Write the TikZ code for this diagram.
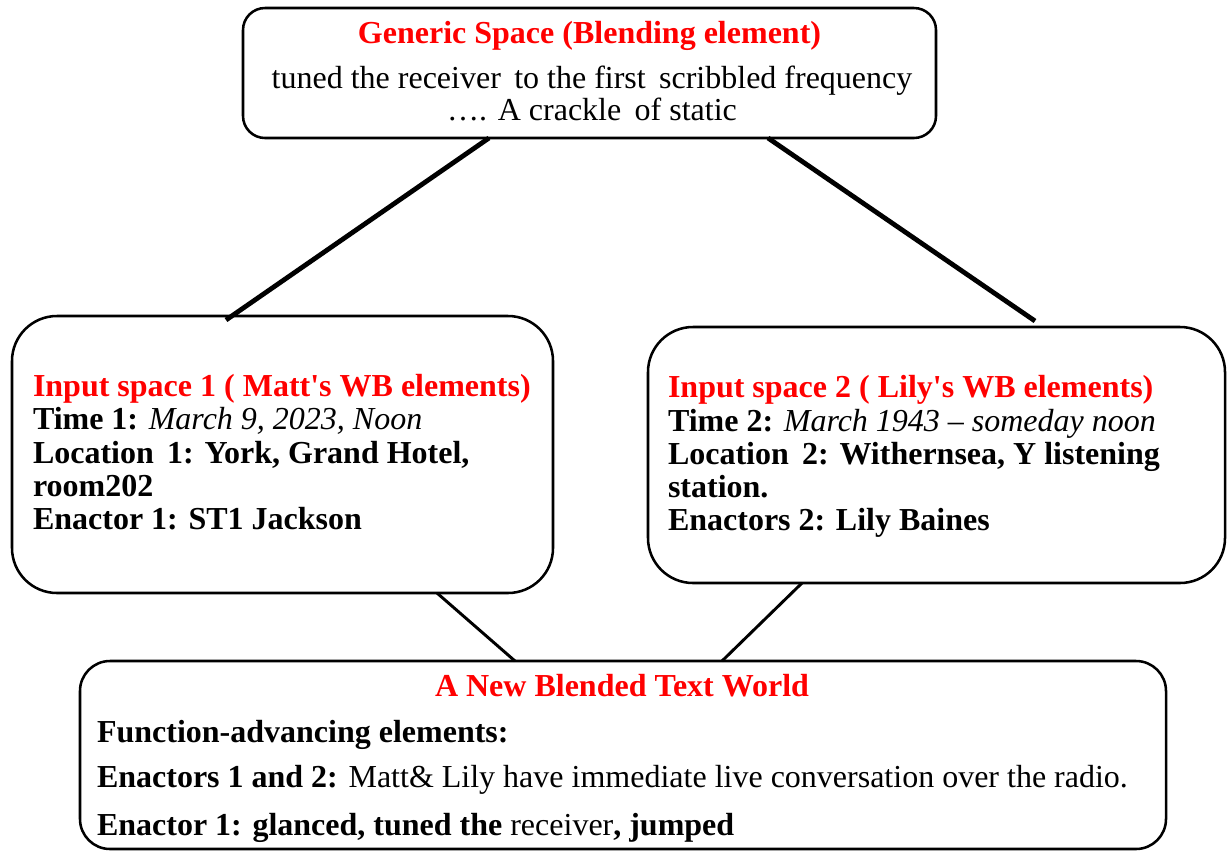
\documentclass[tikz,border=0pt]{standalone}
\usepackage{fontspec}
\setmainfont{Liberation Serif}
\usetikzlibrary{calc}
\definecolor{headred}{RGB}{255,0,0}
\newcommand{\sq}{\textquotesingle}
\begin{document}
\begin{tikzpicture}[x=0.75pt,y=-0.75pt,
  box/.style={draw=black, line width=1.9pt, rectangle, inner sep=0pt, outer sep=0pt},
  txt/.style={inner sep=0pt, outer sep=0pt, anchor=base west,
    font=\fontsize{24}{24.75}\selectfont},
  ctxt/.style={txt, anchor=base},
  head/.style={text=headred, font=\fontsize{24}{24.75}\selectfont\bfseries},
  thick link/.style={line width=3.6pt},
  thin link/.style={line width=2.2pt}]
\useasboundingbox (0,0) rectangle (1227,850);
\clip (0,0) rectangle (1227,850);
\fill[white] (0,0) rectangle (1227,850);

% the four spaces
\node[box, rounded corners=16.5pt, minimum width=519.75pt, minimum height=97.5pt]
  (gen) at (589.5,73) {};
\node[box, rounded corners=33.75pt, minimum width=405.75pt, minimum height=207.75pt]
  (in1) at (282.5,454.5) {};
\node[box, rounded corners=33.75pt, minimum width=432.75pt, minimum height=192pt]
  (in2) at (936.5,455) {};
\node[box, rounded corners=22.5pt, minimum width=814.5pt, minimum height=141pt]
  (blend) at (623,755) {};

% generic space
\node[ctxt, head] (genh) at (589.5,43) {Generic Space (Blending element)};
\node[ctxt] (gen1) at (592,88) {tuned the receiver\, to the first\, scribbled frequency};
\node[ctxt] (gen2) at (592,120) {…. A crackle\, of static};

% input space 1
\node[txt, head] (in1h) at (33,396) {Input space 1 ( Matt\sq s WB elements)};
\node[txt] (in1a) at (33,429) {\textbf{Time 1:} \textit{March 9, 2023, Noon}};
\node[txt] (in1b) at (33,463) {\textbf{Location\, 1: York, Grand Hotel,}};
\node[txt] (in1c) at (33,496) {\textbf{room202}};
\node[txt] (in1d) at (33,529) {\textbf{Enactor 1: ST1 Jackson}};

% input space 2
\node[txt, head] (in2h) at (668,397) {Input space 2 ( Lily\sq s WB elements)};
\node[txt] (in2a) at (668,431) {\textbf{Time 2:} \textit{March 1943 – someday noon}};
\node[txt] (in2b) at (668,464) {\textbf{Location\, 2: Withernsea, Y listening}};
\node[txt] (in2c) at (668,497) {\textbf{station.}};
\node[txt] (in2d) at (668,530) {\textbf{Enactors 2: Lily Baines}};

% blended space
\node[ctxt, head] (blh) at (622,696) {A New Blended Text World};
\node[txt] (bla) at (97,742) {\textbf{Function-advancing elements:}};
\node[txt] (blb) at (97,787) {\textbf{Enactors 1 and 2:} Matt\& Lily have immediate live conversation over the radio.};
\node[txt] (blc) at (97,835) {\textbf{Enactor 1: glanced, tuned the} receiver\textbf{, jumped}};

% connectors
\draw[thick link] ($(gen.south)+(-100.5,0)$) -- ($(in1.north)+(-56.5,4)$);
\draw[thick link] ($(gen.south)+(178.5,0)$) -- ($(in2.north)+(98.5,-6)$);
\draw[thin link] ($(in1.south)+(154.5,0)$) -- ($(blend.north)+(-108,0)$);
\draw[thin link] ($(in2.south)+(-134.5,0)$) -- ($(blend.north)+(99,0)$);
\end{tikzpicture}
\end{document}
